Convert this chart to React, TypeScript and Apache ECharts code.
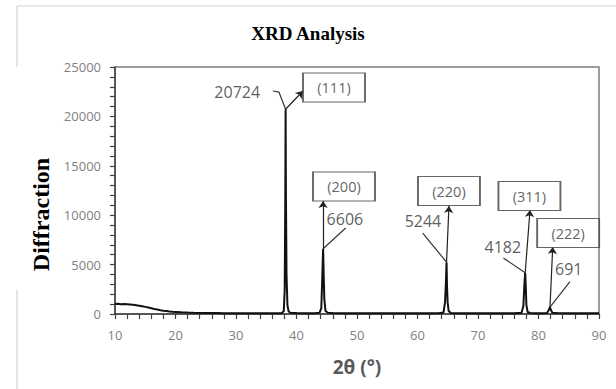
import React, { useEffect, useRef } from 'react';
import * as echarts from 'echarts';

// XRD pattern (2θ in degrees, intensity in counts)
const twoTheta = [
  10, 10.5, 11, 11.5, 12, 12.5, 13, 13.5, 14, 14.5, 15, 15.5, 16, 16.5, 17, 17.5, 18, 18.5, 19, 19.5,
  20, 21, 22, 23, 24, 25, 26, 27, 28, 29, 30, 31, 32, 33, 34, 35, 36, 37, 37.6, 37.9,
  38.05, 38.15, 38.2, 38.25, 38.35, 38.5, 38.7, 39, 40, 41, 42, 43, 43.8, 44.1, 44.25, 44.4, 44.5, 44.6, 44.8, 45.2,
  46, 48, 50, 52, 54, 56, 58, 60, 62, 63.5, 64.3, 64.55, 64.7, 64.8, 64.88, 64.98, 65.15, 65.5, 66, 68,
  70, 72, 74, 76, 77.2, 77.5, 77.65, 77.8, 77.9, 78.0, 78.2, 78.6, 79.5, 80.5, 81.4, 81.7, 81.9, 82.05, 82.3, 83,
  85, 87, 89, 90,
];
const intensity = [
  1010, 1030, 990, 1000, 980, 960, 930, 890, 840, 780, 720, 650, 580, 510, 450, 390, 340, 300, 260, 230,
  210, 170, 140, 120, 110, 100, 95, 90, 85, 80, 78, 75, 72, 70, 70, 72, 75, 85, 110, 300,
  2500, 12000, 20724, 12500, 4000, 900, 250, 130, 90, 80, 80, 85, 120, 600, 3500, 6606, 3800, 1500, 300, 120,
  90, 80, 75, 72, 70, 70, 72, 72, 75, 85, 150, 1200, 3200, 5244, 2800, 1200, 300, 110, 85, 75,
  72, 72, 75, 80, 120, 800, 2800, 4182, 2700, 900, 200, 100, 85, 85, 110, 400, 691, 400, 130, 90,
  80, 78, 75, 75,
];

// Peak annotations
const peakLabels = ['(111)', '(200)', '(220)', '(311)', '(222)'];
const peakAngles = [38.2, 44.4, 64.8, 77.8, 81.9];
const peakValues = [20724, 6606, 5244, 4182, 691];
// annotation anchors in data coordinates [2θ, intensity]
const boxAnchors = [[46.2, 22922], [47.85, 12903], [65.2, 12448], [78.5, 11942], [84.9, 8197]];
const valueAnchors = [[30.2, 22466], [48.0, 9614], [60.9, 9412], [74.1, 6780], [85.0, 4554]];
const arrowTips = [[41.07, 22568], [44.4, 11436], [65.2, 10930], [78.6, 10525], [82.35, 6780]];
const leaderStarts = [
  [[36.1, 22568], [37.1, 22466]],
  [[48.13, 8703]],
  [[60.86, 8197]],
  [[74.2, 5667]],
  [[85.2, 3269]],
];

const xMin = 10;
const xMax = 90;
const xStep = 10;
const yMin = 0;
const yMax = 25000;
const yStep = 5000;

export default function App() {
  const ref = useRef<HTMLDivElement>(null);

  useEffect(() => {
    document.body.style.margin = '0';
    if (!ref.current) return;
    const chart = echarts.init(ref.current, undefined, { renderer: 'svg' });
    const sans = '"Open Sans", Lato, sans-serif';
    const serif = '"Liberation Serif", "Times New Roman", serif';

    const curve = twoTheta.map((t, i) => [t, intensity[i]]);

    chart.setOption({
      animation: false,
      backgroundColor: '#ffffff',
      title: {
        text: 'XRD Analysis',
        left: 303,
        top: 19,
        textAlign: 'center',
        textStyle: { fontFamily: serif, fontWeight: 'bold', fontSize: 19, color: '#000' },
      },
      graphic: [
        { type: 'line', shape: { x1: 17, y1: 6, x2: 616, y2: 6 }, style: { stroke: '#d4d4d4', lineWidth: 1.2 } },
        { type: 'line', shape: { x1: 17, y1: 6, x2: 17, y2: 67 }, style: { stroke: '#d4d4d4', lineWidth: 1.2 } },
        { type: 'line', shape: { x1: 17, y1: 290, x2: 17, y2: 389 }, style: { stroke: '#d4d4d4', lineWidth: 1.2 } },
      ],
      grid: {
        left: 115,
        right: 17,
        top: 67,
        bottom: 75,
        show: true,
        borderColor: '#7f7f7f',
        borderWidth: 1.5,
        backgroundColor: 'transparent',
      },
      xAxis: {
        type: 'value',
        min: xMin,
        max: xMax,
        interval: xStep,
        name: '2θ (°)',
        nameLocation: 'middle',
        nameGap: 43,
        nameTextStyle: { fontFamily: sans, fontSize: 19, fontWeight: 'bold', color: '#595959' },
        axisLine: { show: true, lineStyle: { color: '#404040', width: 1.5 } },
        axisTick: { show: true, length: 5, lineStyle: { color: '#404040', width: 1.2 } },
        minorTick: { show: true, splitNumber: 5, length: 5, lineStyle: { color: '#404040', width: 1.2 } },
        axisLabel: { fontFamily: sans, fontSize: 13, color: '#7f7f7f', margin: 14 },
        splitLine: { show: false },
      },
      yAxis: {
        type: 'value',
        min: yMin,
        max: yMax,
        interval: yStep,
        name: 'Diffraction',
        nameLocation: 'middle',
        nameGap: 62,
        nameTextStyle: {
          fontFamily: serif,
          fontSize: 24,
          fontWeight: 'bold',
          color: '#000',
          padding: [0, 48, 0, 0],
        },
        axisLine: { show: true, lineStyle: { color: '#404040', width: 1.5 } },
        axisTick: { show: true, length: 5, lineStyle: { color: '#404040', width: 1.2 } },
        minorTick: { show: true, splitNumber: 5, length: 5, lineStyle: { color: '#404040', width: 1.2 } },
        axisLabel: {
          fontFamily: sans,
          fontSize: 13,
          color: '#7f7f7f',
          margin: 14,
          formatter: (v: number) => String(v),
        },
        splitLine: { show: false },
      },
      series: [
        {
          type: 'line',
          data: curve,
          showSymbol: false,
          symbol: 'none',
          lineStyle: { color: '#111', width: 2 },
          silent: true,
          z: 3,
        },
        {
          type: 'lines',
          coordinateSystem: 'cartesian2d',
          polyline: true,
          silent: true,
          symbol: 'none',
          lineStyle: { color: '#333', width: 1.2, opacity: 1 },
          data: leaderStarts.map((pts, i) => ({ coords: [...pts, [peakAngles[i], peakValues[i]]] })),
          z: 4,
        },
        {
          type: 'lines',
          coordinateSystem: 'cartesian2d',
          silent: true,
          symbol: ['none', 'arrow'],
          symbolSize: 7,
          lineStyle: { color: '#222', width: 1.2, opacity: 1 },
          data: arrowTips.map((tip, i) => ({ coords: [[peakAngles[i], peakValues[i]], tip] })),
          z: 4,
        },
        {
          type: 'scatter',
          silent: true,
          symbol: 'circle',
          symbolSize: 0,
          data: valueAnchors.map((p, i) => ({ value: p, name: String(peakValues[i]) })),
          label: {
            show: true,
            position: 'inside',
            formatter: '{b}',
            fontFamily: sans,
            fontSize: 16,
            color: '#333',
          },
          z: 5,
        },
        {
          type: 'scatter',
          silent: true,
          symbol: 'rect',
          symbolSize: [62, 29],
          itemStyle: { color: '#ffffff', borderColor: '#404040', borderWidth: 1.3 },
          data: boxAnchors.map((p, i) => ({ value: p, name: peakLabels[i] })),
          label: {
            show: true,
            position: 'inside',
            formatter: '{b}',
            fontFamily: sans,
            fontSize: 14.5,
            color: '#3a3a3a',
          },
          z: 6,
        },
      ],
    });

    return () => chart.dispose();
  }, []);

  return <div ref={ref} style={{ width: 616, height: 389 }} />;
}
